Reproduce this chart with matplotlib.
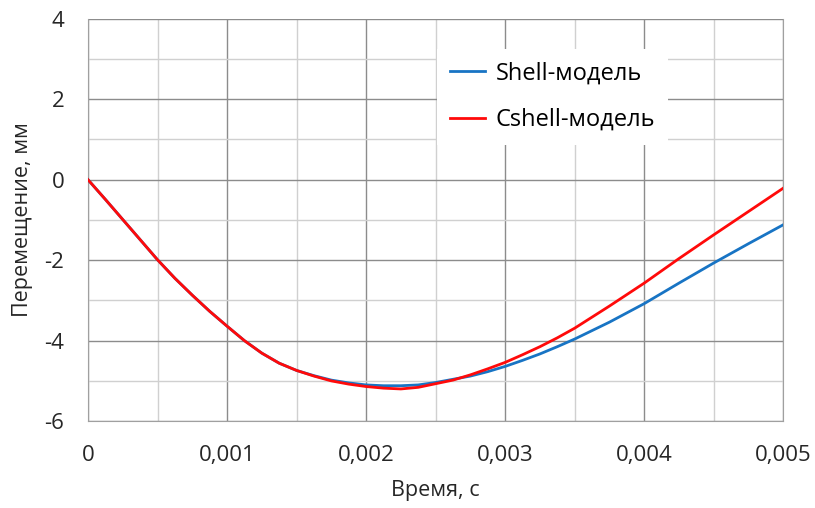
import numpy as np
import matplotlib.pyplot as plt
from matplotlib.ticker import MultipleLocator, FuncFormatter

# time, s
t = [0, 0.000125, 0.00025, 0.000375, 0.0005, 0.000625, 0.00075, 0.000875,
     0.001, 0.001125, 0.00125, 0.001375, 0.0015, 0.001625, 0.00175, 0.001875,
     0.002, 0.002125, 0.00225, 0.002375, 0.0025, 0.002625, 0.00275, 0.002875,
     0.003, 0.003125, 0.00325, 0.003375, 0.0035, 0.00375,
     0.004, 0.00425, 0.0045, 0.00475, 0.005]
# displacement, mm
shell = [0, -0.49, -0.99, -1.49, -1.99, -2.45, -2.87, -3.27,
         -3.64, -4.00, -4.31, -4.56, -4.74, -4.87, -4.98, -5.05,
         -5.10, -5.12, -5.12, -5.10, -5.04, -4.96, -4.88, -4.77,
         -4.64, -4.49, -4.33, -4.15, -3.96, -3.54,
         -3.08, -2.57, -2.07, -1.59, -1.12]
cshell = [0, -0.49, -0.99, -1.49, -1.99, -2.45, -2.87, -3.27,
          -3.64, -4.00, -4.31, -4.56, -4.74, -4.88, -5.00, -5.08,
          -5.14, -5.18, -5.20, -5.16, -5.07, -4.98, -4.85, -4.70,
          -4.54, -4.35, -4.15, -3.93, -3.69, -3.14,
          -2.57, -1.96, -1.37, -0.79, -0.21]

plt.rcParams['font.family'] = ['Open Sans', 'DejaVu Sans']

fig = plt.figure(figsize=(8.15, 5.08), dpi=100)
ax = fig.add_axes([0.108, 0.171, 0.853, 0.792])

ax.plot(t, shell, color='#1874c4', lw=2.0, label='Shell-модель', zorder=3)
ax.plot(t, cshell, color='#ff0a0a', lw=2.0, label='Cshell-модель', zorder=4)

ax.set_xlim(0, 0.005)
ax.set_ylim(-6, 4)
ax.xaxis.set_major_locator(MultipleLocator(0.001))
ax.xaxis.set_minor_locator(MultipleLocator(0.0005))
ax.yaxis.set_major_locator(MultipleLocator(2))
ax.yaxis.set_minor_locator(MultipleLocator(1))
ax.xaxis.set_major_formatter(FuncFormatter(lambda v, p: '0' if abs(v) < 1e-12 else f'{v:.3f}'.replace('.', ',')))
ax.yaxis.set_major_formatter(FuncFormatter(lambda v, p: f'{v:.0f}'))

ax.grid(which='major', color='#8c8c8c', lw=1.0)
ax.grid(which='minor', color='#d0d0d0', lw=1.0)
ax.set_axisbelow(True)
ax.tick_params(which='both', length=0, labelsize=16, pad=17, colors='#262626')
for s in ax.spines.values():
    s.set_color('#a0a0a0')
ax.spines['top'].set_visible(False)

ax.set_xlabel('Время, с', fontsize=15.5, labelpad=10, color='#262626')
ax.set_ylabel('Перемещение, мм', fontsize=15.5, labelpad=8, color='#262626')

leg = ax.legend(loc='center', bbox_to_anchor=(0.668, 0.806), fontsize=17,
                frameon=True, fancybox=False, edgecolor='none', facecolor='white',
                framealpha=1, labelspacing=0.95, handlelength=1.5,
                handletextpad=0.45, borderpad=0.55)

fig.savefig('out.png', dpi=100)
